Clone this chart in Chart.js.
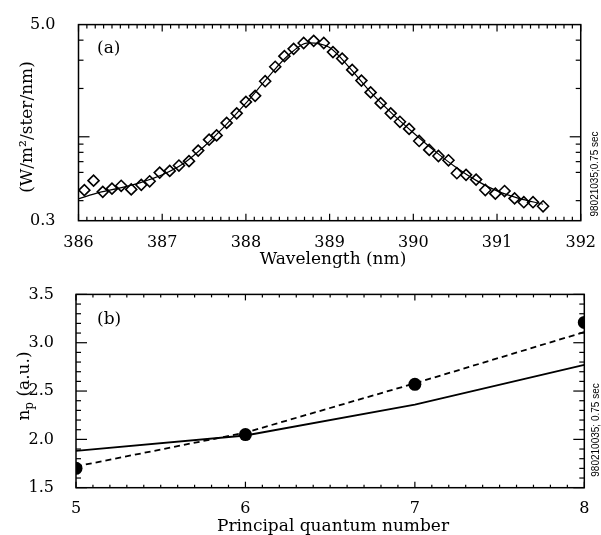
<!DOCTYPE html>
<html>
<head>
<meta charset="utf-8">
<script src="https://cdn.jsdelivr.net/npm/chart.js@4.4.1/dist/chart.umd.min.js"></script>
<style>
  body { margin: 0; background: #fff; }
  #wrap { position: relative; width: 601px; height: 535px; }
  canvas { position: absolute; left: 0; }
  #specChart { top: 0; }
  #npChart { top: 270px; }
</style>
</head>
<body>
<div id="wrap">
  <canvas id="specChart" width="601" height="270"></canvas>
  <canvas id="npChart" width="601" height="265"></canvas>
</div>
<script>
// ---- panel (a): spectrum ----
const wavelength = [
  386.07, 386.18, 386.29, 386.40, 386.51, 386.63, 386.75, 386.85, 386.97, 387.09,
  387.20, 387.32, 387.43, 387.56, 387.65, 387.77, 387.89, 388.00, 388.11, 388.23,
  388.35, 388.46, 388.57, 388.69, 388.81, 388.93, 389.04, 389.15, 389.27, 389.38,
  389.49, 389.61, 389.73, 389.84, 389.95, 390.07, 390.19, 390.30, 390.42, 390.52,
  390.63, 390.75, 390.86, 390.98, 391.09, 391.21, 391.32, 391.43, 391.55
];
const intensity = [
  0.465, 0.533, 0.454, 0.475, 0.495, 0.470, 0.502, 0.528, 0.598, 0.613,
  0.662, 0.705, 0.820, 0.960, 1.02, 1.22, 1.40, 1.65, 1.80, 2.22,
  2.73, 3.18, 3.53, 3.84, 3.96, 3.84, 3.37, 3.07, 2.61, 2.24,
  1.89, 1.62, 1.40, 1.24, 1.12, 0.942, 0.828, 0.759, 0.714, 0.593,
  0.579, 0.541, 0.466, 0.442, 0.459, 0.413, 0.391, 0.391, 0.369
];
const fitWavelength = [
  386.0, 386.25, 386.5, 386.75, 387.0, 387.25, 387.5, 387.75, 388.0, 388.25, 388.5, 388.75,
  389.0, 389.25, 389.5, 389.75, 390.0, 390.25, 390.5, 390.75, 391.0, 391.25, 391.55
];
const fitIntensity = [
  0.41, 0.45, 0.48, 0.52, 0.58, 0.68, 0.87, 1.17, 1.62, 2.30, 3.20, 3.85,
  3.60, 2.65, 1.87, 1.39, 1.06, 0.82, 0.65, 0.535, 0.46, 0.415, 0.38
];
const specXTicks = [386, 387, 388, 389, 390, 391, 392];
const specYLabels = [0.3, 5.0];
const specYMajor = [1];
const specYMinor = [0.4, 0.6, 0.7, 0.8, 0.9, 2, 3, 4];

// ---- panel (b): n_p vs principal quantum number ----
const quantumN = [5, 6, 7, 8];
const npMeasured = [1.70, 2.05, 2.57, 3.21];
const npDashed = [1.72, 2.07, 2.58, 3.11];
const npSolid = [1.88, 2.04, 2.36, 2.77];
const npTicks = [1.5, 2.0, 2.5, 3.0, 3.5];

const SERIF = '"DejaVu Serif", serif';

function steps(from, to, step, skip) {
  const out = [];
  for (let v = from; v <= to + 1e-9; v += step) {
    const r = Math.round(v * 1000) / 1000;
    if (!skip.some(s => Math.abs(s - r) < 1e-6)) out.push(r);
  }
  return out;
}

// inward ticks on all four sides, frame, titles and small notes
const decor = {
  id: 'decor',
  afterDraw(chart, args, o) {
    const { ctx, chartArea: a, scales: { x, y } } = chart;
    ctx.save();
    ctx.strokeStyle = '#000';
    ctx.fillStyle = '#000';
    ctx.lineWidth = 1.2;
    const seg = (x1, y1, x2, y2) => { ctx.beginPath(); ctx.moveTo(x1, y1); ctx.lineTo(x2, y2); ctx.stroke(); };
    const xt = (vals, len) => vals.forEach(v => {
      const p = x.getPixelForValue(v);
      seg(p, a.bottom, p, a.bottom - len);
      seg(p, a.top, p, a.top + len);
    });
    const yt = (vals, len) => vals.forEach(v => {
      const p = y.getPixelForValue(v);
      seg(a.left, p, a.left + len, p);
      seg(a.right, p, a.right - len, p);
    });
    xt(o.xMajor, o.xLen[0]);
    xt(o.xMinor, o.xLen[1]);
    yt(o.yMajor, o.yLen[0]);
    yt(o.yMinor, o.yLen[1]);

    ctx.lineWidth = 1.5;
    ctx.strokeRect(a.left, a.top, a.right - a.left, a.bottom - a.top);

    // panel label
    ctx.font = '17px ' + SERIF;
    ctx.textAlign = 'left';
    ctx.textBaseline = 'middle';
    ctx.fillText(o.label, a.left + o.labelAt[0], a.top + o.labelAt[1]);

    // x title
    ctx.textAlign = 'center';
    ctx.textBaseline = 'alphabetic';
    ctx.fillText(o.xTitle, o.xTitleAt[0], o.xTitleAt[1]);

    // y title (rotated, optional subscript)
    ctx.save();
    ctx.translate(o.yTitleAt[0], o.yTitleAt[1]);
    ctx.rotate(-Math.PI / 2);
    ctx.textAlign = 'left';
    const big = '17px ' + SERIF, small = '12px ' + SERIF;
    ctx.font = big;
    const w1 = ctx.measureText(o.yTitle[0]).width;
    const w3 = ctx.measureText(o.yTitle[2]).width;
    ctx.font = small;
    const w2 = o.yTitle[1] ? ctx.measureText(o.yTitle[1]).width : 0;
    let cx = -(w1 + w2 + w3) / 2;
    ctx.font = big;
    ctx.fillText(o.yTitle[0], cx, 0);
    cx += w1;
    if (o.yTitle[1]) {
      ctx.font = small;
      ctx.fillText(o.yTitle[1], cx, 4);
      cx += w2;
    }
    ctx.font = big;
    ctx.fillText(o.yTitle[2], cx, 0);
    ctx.restore();

    // run note on the right
    ctx.translate(o.noteAt[0], o.noteAt[1]);
    ctx.rotate(-Math.PI / 2);
    ctx.font = '10px "Liberation Sans", Arial, sans-serif';
    ctx.textAlign = 'center';
    ctx.textBaseline = 'middle';
    ctx.fillText(o.note, 0, 0);
    ctx.restore();
  }
};

const tickFont = { family: SERIF, size: 16 };

new Chart(document.getElementById('specChart'), {
  type: 'scatter',
  data: {
    datasets: [
      {
        data: fitWavelength.map((w, i) => ({ x: w, y: fitIntensity[i] })),
        showLine: true,
        borderColor: '#000',
        borderWidth: 1.2,
        pointRadius: 0,
        cubicInterpolationMode: 'monotone'
      },
      {
        data: wavelength.map((w, i) => ({ x: w, y: intensity[i] })),
        pointStyle: 'rectRot',
        pointRadius: 5.5,
        borderWidth: 1.6,
        borderColor: '#000',
        backgroundColor: 'rgba(0,0,0,0)'
      }
    ]
  },
  options: {
    responsive: false,
    animation: false,
    events: [],
    layout: { autoPadding: false, padding: { top: 18.3, right: 15.5, left: 0, bottom: 0 } },
    plugins: {
      legend: { display: false },
      tooltip: { enabled: false },
      decor: {
        xMajor: specXTicks,
        xMinor: steps(386, 392, 0.1, specXTicks),
        xLen: [7, 4],
        yMajor: specYMajor,
        yMinor: specYMinor,
        yLen: [11, 5],
        label: '(a)',
        labelAt: [18.5, 24],
        xTitle: 'Wavelength (nm)',
        xTitleAt: [333, 264],
        yTitle: ['(W/m²/ster/nm)', '', ''],
        yTitleAt: [32, 127],
        note: '98021035;0.75 sec',
        noteAt: [595, 174]
      }
    },
    scales: {
      x: {
        type: 'linear',
        min: 386, max: 392,
        afterBuildTicks: s => { s.ticks = specXTicks.map(v => ({ value: v })); },
        afterFit: s => { s.height = 49.3; },
        grid: { display: false },
        border: { display: false },
        ticks: { font: tickFont, color: '#000', padding: 5, maxRotation: 0, autoSkip: false }
      },
      y: {
        type: 'logarithmic',
        min: 0.3, max: 5.0,
        afterBuildTicks: s => { s.ticks = specYLabels.map(v => ({ value: v })); },
        afterFit: s => { s.width = 78.5; },
        grid: { display: false },
        border: { display: false },
        ticks: { font: tickFont, color: '#000', padding: 15, callback: v => Number(v).toFixed(1) }
      }
    }
  },
  plugins: [decor]
});

new Chart(document.getElementById('npChart'), {
  type: 'scatter',
  data: {
    datasets: [
      {
        data: quantumN.map((n, i) => ({ x: n, y: npSolid[i] })),
        showLine: true,
        borderColor: '#000',
        borderWidth: 1.8,
        pointRadius: 0
      },
      {
        data: quantumN.map((n, i) => ({ x: n, y: npDashed[i] })),
        showLine: true,
        borderColor: '#000',
        borderWidth: 1.8,
        borderDash: [6, 4],
        pointRadius: 0
      },
      {
        data: quantumN.map((n, i) => ({ x: n, y: npMeasured[i] })),
        pointStyle: 'circle',
        pointRadius: 6.5,
        borderWidth: 0,
        backgroundColor: '#000',
        clip: 0
      }
    ]
  },
  options: {
    responsive: false,
    animation: false,
    events: [],
    layout: { autoPadding: false, padding: { top: 24.4, right: 16.7, left: 0, bottom: 0 } },
    plugins: {
      legend: { display: false },
      tooltip: { enabled: false },
      decor: {
        xMajor: quantumN,
        xMinor: steps(5, 8, 0.1, quantumN),
        xLen: [6, 3],
        yMajor: npTicks,
        yMinor: steps(1.5, 3.5, 0.1, npTicks),
        yLen: [11, 5],
        label: '(b)',
        labelAt: [21, 25.6],
        xTitle: 'Principal quantum number',
        xTitleAt: [333, 260.7],
        yTitle: ['n', 'p', ' (a.u.)'],
        yTitleAt: [29, 116],
        note: '980210035; 0.75 sec',
        noteAt: [596, 160]
      }
    },
    scales: {
      x: {
        type: 'linear',
        min: 5, max: 8,
        afterBuildTicks: s => { s.ticks = quantumN.map(v => ({ value: v })); },
        afterFit: s => { s.height = 47.3; },
        grid: { display: false },
        border: { display: false },
        ticks: { font: tickFont, color: '#000', padding: 4, maxRotation: 0, autoSkip: false }
      },
      y: {
        type: 'linear',
        min: 1.5, max: 3.5,
        afterBuildTicks: s => { s.ticks = npTicks.map(v => ({ value: v })); },
        afterFit: s => { s.width = 76; },
        grid: { display: false },
        border: { display: false },
        ticks: { font: tickFont, color: '#000', padding: 14, callback: v => Number(v).toFixed(1) }
      }
    }
  },
  plugins: [decor]
});
</script>
</body>
</html>
